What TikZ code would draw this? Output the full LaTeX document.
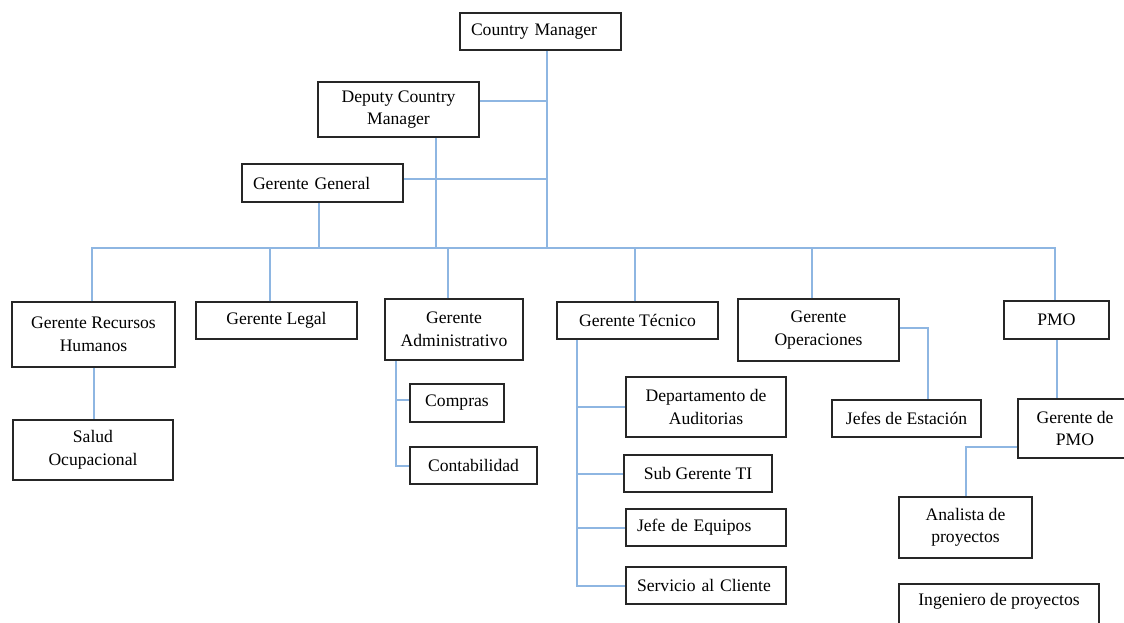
\documentclass[tikz,border=0pt]{standalone}
\usepackage{fontspec}
\setmainfont{Liberation Serif}
\usetikzlibrary{calc,shadows}
\definecolor{linkblue}{RGB}{142,182,226}
\definecolor{boxline}{RGB}{38,38,38}
\begin{document}
\begin{tikzpicture}[x=1pt,y=-1pt,
  box/.style={draw=boxline,line width=1.5pt,fill=white,inner ysep=0pt,inner xsep=10pt,
    align=center,font=\fontsize{17.6}{22.5}\selectfont,
    drop shadow={shadow xshift=1pt,shadow yshift=-1pt,opacity=0.22}},
  leftbox/.style={box,align=left,inner xsep=11pt},
  link/.style={draw=linkblue,line width=2pt}]
\useasboundingbox (0,0) rectangle (1124,622);
\clip (0,0) rectangle (1124,622);

% top management
\node[leftbox,minimum width=161pt,minimum height=37pt,text width=139pt] (cm) at (540.5,31.5) {Country Manager};
\node[box,minimum width=161pt,minimum height=55pt] (dcm) at (398.5,109.5) {Deputy Country\\Manager};
\node[leftbox,minimum width=161pt,minimum height=38pt,text width=139pt] (gg) at (322.5,183) {Gerente General};

% managers
\node[box,minimum width=163pt,minimum height=65pt] (rh) at (93.5,334.5) {Gerente Recursos\\Humanos};
\node[box,minimum width=161pt,minimum height=37pt] (leg) at (276.5,320.5) {Gerente Legal};
\node[box,minimum width=138pt,minimum height=61pt] (adm) at (454,329.5) {Gerente\\Administrativo};
\node[box,minimum width=161pt,minimum height=37pt] (tec) at (637.5,320.5) {Gerente Técnico};
\node[box,minimum width=161pt,minimum height=62pt] (ope) at (818.5,330) {Gerente\\Operaciones};
\node[box,minimum width=105pt,minimum height=38pt] (pmo) at (1056.5,320) {PMO};

% departments
\node[box,minimum width=160pt,minimum height=60pt] (sal) at (93,450) {Salud\\Ocupacional};
\node[box,minimum width=94pt,minimum height=38pt] (com) at (457,403) {Compras};
\node[box,minimum width=127pt,minimum height=37pt] (cont) at (473.5,465.5) {Contabilidad};
\node[box,minimum width=160pt,minimum height=60pt] (dep) at (706,407) {Departamento de\\Auditorias};
\node[box,minimum width=148pt,minimum height=37pt] (sub) at (698,473.5) {Sub Gerente TI};
\node[leftbox,minimum width=160pt,minimum height=37pt,text width=138pt] (jefe) at (706,527.5) {Jefe de Equipos};
\node[leftbox,minimum width=160pt,minimum height=37pt,text width=138pt] (serv) at (706,585.5) {Servicio al Cliente};
\node[box,minimum width=149pt,minimum height=37pt] (jest) at (906.5,418.5) {Jefes de Estación};
\node[box,minimum width=114pt,minimum height=59pt] (gpmo) at (1075,428.5) {Gerente de\\PMO};
\node[box,minimum width=133pt,minimum height=61pt] (ana) at (965.5,527.5) {Analista de\\proyectos};
\node[box,minimum width=200pt,minimum height=60pt] (ing) at (999,614) {Ingeniero de proyectos\\\strut};

% connector anchor points
\coordinate (bus) at (0,248);
\coordinate (trunk) at ($(cm.south)+(6.5,0)$);
\coordinate (dcmR) at ($(dcm.east)+(0,-8.5)$);
\coordinate (dcmB) at ($(dcm.south)+(37.5,0)$);
\coordinate (ggR) at ($(gg.east)+(0,-4)$);
\coordinate (ggB) at ($(gg.south)+(-4,0)$);
\coordinate (rhT) at ($(rh.north)+(-1.5,0)$);
\coordinate (legT) at ($(leg.north)+(-6.5,0)$);
\coordinate (admT) at ($(adm.north)+(-6,0)$);
\coordinate (tecT) at ($(tec.north)+(-2.5,0)$);
\coordinate (opeT) at ($(ope.north)+(-6.5,0)$);
\coordinate (pmoT) at ($(pmo.north)+(-1.5,0)$);
\coordinate (admX) at ($(adm.south west)+(11.7,0)$);
\coordinate (comL) at ($(com.west)+(0,-3)$);
\coordinate (tecX) at ($(tec.south west)+(20.7,0)$);
\coordinate (opeR) at ($(ope.east)+(0,-1.7)$);
\coordinate (jestT) at ($(jest.north)+(21.8,0)$);
\coordinate (gpmoL) at ($(gpmo.west)+(0,18)$);

% upper hierarchy
\draw[link] (trunk) -- (trunk |- bus);
\draw[link] (dcmR) -- (dcmR -| trunk);
\draw[link] (dcmB) -- (dcmB |- bus);
\draw[link] (ggR) -- (ggR -| trunk);
\draw[link] (ggB) -- (ggB |- bus);

% bus to managers
\draw[link] (rhT) |- (pmoT |- bus) -- (pmoT);
\draw[link] (legT) -- (legT |- bus);
\draw[link] (admT) -- (admT |- bus);
\draw[link] (tecT) -- (tecT |- bus);
\draw[link] (opeT) -- (opeT |- bus);

% managers to departments
\draw[link] (rh.south) -- (rh.south |- sal.north);
\draw[link] (admX) |- (cont.west);
\draw[link] (admX |- comL) -- (comL);
\draw[link] (tecX) |- (serv.west);
\draw[link] (tecX |- dep.west) -- (dep.west);
\draw[link] (tecX |- sub.west) -- (sub.west);
\draw[link] (tecX |- jefe.west) -- (jefe.west);
\draw[link] (opeR) -| (jestT);
\draw[link] (pmo.south) -- (pmo.south |- gpmo.north);
\draw[link] (gpmoL) -| (ana.north);
\end{tikzpicture}
\end{document}
